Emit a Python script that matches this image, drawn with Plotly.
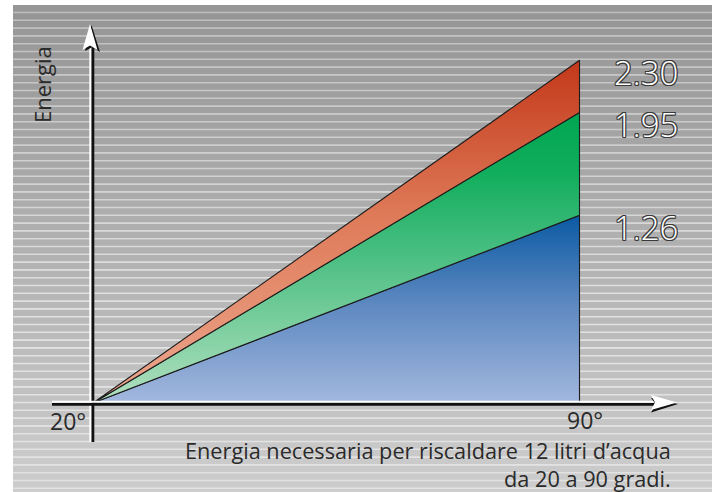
import plotly.graph_objects as go

# ---- data ----
temp_start = 20
temp_end = 90
tick_labels = ["20°", "90°"]
series_names = ["base", "media", "alta"]
energy_values = [1.26, 1.95, 2.30]
value_labels = ["1.26", "1.95", "2.30"]
y_title = "Energia"
caption_1 = "Energia necessaria per riscaldare 12 litri d\u2019acqua"
caption_2 = "da 20 a 90 gradi."

W, H = 719, 492

def px(x, y):
    return x / W, 1 - y / H

fig = go.Figure()

# ---- striped gradient background (decoration) ----
shapes = []
top, bot, left, right = 5, 492, 13, 712
period = 7.8
def band_col(y):
    t = (y - top) / (bot - top)
    return int(150 + t * 56)
y = top
while y < bot:
    v = band_col(y)
    x0, y0 = px(left, y)
    x1, y1 = px(right, min(y + period, bot))
    shapes.append(dict(type="rect", xref="paper", yref="paper", x0=x0, x1=x1, y0=y1, y1=y0,
                       fillcolor=f"rgb({v},{v},{v})", line=dict(width=0), layer="below"))
    y += period
y = 12.5
while y < bot:
    v = min(band_col(y) + 40, 226)
    x0, y0 = px(left, y)
    x1, _ = px(right, y)
    shapes.append(dict(type="line", xref="paper", yref="paper", x0=x0, x1=x1, y0=y0, y1=y0,
                       line=dict(color=f"rgb({v},{v},{v})", width=1.6), layer="below"))
    y += period

# ---- areas ----
blue_c = [[0, "#a3b8de"], [0.55, "#5a86bf"], [1, "#0a5aa3"]]
green_c = [[0, "#b2e0c0"], [0.5, "#4cbf83"], [0.8, "#10ad5c"], [1, "#00a651"]]
red_c = [[0, "#eda88f"], [0.55, "#de7a58"], [1, "#c3381a"]]
scales = [blue_c, green_c, red_c]
lower = [0] + energy_values[:-1]
for name, lo, hi, cs in zip(series_names, lower, energy_values, scales):
    fig.add_trace(go.Scatter(
        x=[temp_start, temp_end, temp_end, temp_start],
        y=[0, lo, hi, 0],
        mode="lines", fill="toself",
        fillgradient=dict(type="vertical", colorscale=cs, start=0, stop=hi),
        line=dict(color="#1c1c1c", width=1.1),
        name=name, hoverinfo="skip", showlegend=False))

# ---- axes with arrows (decoration, above) ----
def line(xa, ya, xb, yb, color, width):
    a = px(xa, ya); b = px(xb, yb)
    shapes.append(dict(type="line", xref="paper", yref="paper", x0=a[0], y0=a[1], x1=b[0], y1=b[1],
                       line=dict(color=color, width=width), layer="above"))

def poly(pts, color):
    p = "M " + " L ".join(f"{px(a,b)[0]:.5f},{px(a,b)[1]:.5f}" for a, b in pts) + " Z"
    shapes.append(dict(type="path", xref="paper", yref="paper", path=p, fillcolor=color,
                       line=dict(width=0), layer="above"))

# y axis
line(92.8, 442, 92.8, 46, "#111111", 3)
line(90.3, 442, 90.3, 46, "#ffffff", 2)
poly([(91.5, 25), (100, 52), (92.5, 47), (85, 51)], "#111111")
poly([(90, 24), (97.5, 50), (90, 45.5), (82.5, 50)], "#ffffff")
# x axis
line(52, 404.3, 656, 404.3, "#111111", 3)
line(52, 401.8, 656, 401.8, "#ffffff", 2)
poly([(678, 404), (651, 412.5), (656, 404.5), (651, 398)], "#111111")
poly([(677, 402.5), (651, 395), (655, 402.5), (651, 410)], "#ffffff")

# ---- annotations ----
ann = []
oc = "#3a3a3a"
outline = ", ".join(f"{a}px {b}px 0 {oc}" for a, b in [(1, 0), (-1, 0), (0, 1), (0, -1), (1, 1), (-1, -1), (1, -1), (-1, 1)])
for v, lab in zip(energy_values, value_labels):
    ann.append(dict(x=temp_end, y=v, xref="x", yref="y", text=lab, showarrow=False,
                    xanchor="center", yanchor="middle", xshift=66, yshift=-12,
                    font=dict(family="Open Sans", size=33, color="#ffffff", weight=300, shadow=outline)))
ann.append(dict(x=temp_start, y=0, xref="x", yref="y", text=tick_labels[0], showarrow=False,
                xanchor="center", yanchor="middle", xshift=-25, yshift=-18,
                font=dict(family="Open Sans", size=23, color="#2a2a2a")))
ann.append(dict(x=temp_end, y=0, xref="x", yref="y", text=tick_labels[1], showarrow=False,
                xanchor="center", yanchor="middle", xshift=5, yshift=-17,
                font=dict(family="Open Sans", size=23, color="#2a2a2a")))
ax, ay = px(42, 85)
ann.append(dict(x=ax, y=ay, xref="paper", yref="paper", text=y_title, showarrow=False, textangle=-90,
                xanchor="center", yanchor="middle", font=dict(family="Open Sans", size=22, color="#2a2a2a")))
cx, cy = px(672, 464.5)
ann.append(dict(x=cx, y=cy, xref="paper", yref="paper", text=caption_1 + "<br>" + caption_2,
                showarrow=False, align="right", borderpad=0,
                xanchor="right", yanchor="middle", font=dict(family="Open Sans", size=21.7, color="#2a2a2a")))

sx = (579.5 - 93) / (temp_end - temp_start)
k = 149.0
fig.update_layout(
    width=W, height=H, margin=dict(l=0, r=0, t=0, b=0),
    paper_bgcolor="#ffffff", plot_bgcolor="rgba(0,0,0,0)",
    xaxis=dict(range=[temp_start - 93 / sx, temp_end + (W - 579.5) / sx], visible=False, fixedrange=True),
    yaxis=dict(range=[-(H - 403) / k, 403 / k], visible=False, fixedrange=True),
    shapes=shapes, annotations=ann, showlegend=False,
)
fig.write_html("out.html", config={"displayModeBar": False},
               post_script="document.body.style.margin='0px';document.body.style.padding='0px';")
